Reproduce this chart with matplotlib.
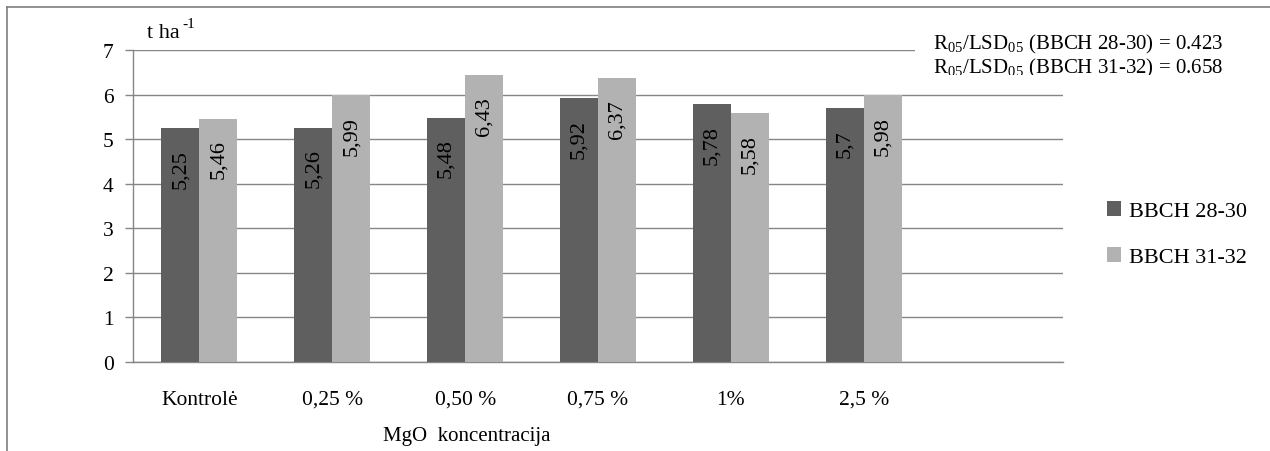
import matplotlib
matplotlib.use("Agg")
import matplotlib.pyplot as plt
import numpy as np
from matplotlib.transforms import Bbox

plt.rcParams['font.family'] = ['Liberation Serif', 'DejaVu Serif']

categories = ["Kontrolė", "0,25 %", "0,50 %", "0,75 %", "1%", "2,5 %"]
bbch_28_30 = [5.25, 5.26, 5.48, 5.92, 5.78, 5.70]
bbch_31_32 = [5.46, 5.99, 6.43, 6.37, 5.58, 5.98]
series_names = ["BBCH 28-30", "BBCH 31-32"]
y_ticks = [0, 1, 2, 3, 4, 5, 6, 7]

W, H = 1270, 452
fig = plt.figure(figsize=(W / 100, H / 100), dpi=100)
ax = fig.add_axes([133 / W, 1 - 363 / H, (1063 - 133) / W, (363 - 51) / H])

grid_c = "#868686"
dark_c = "#5f5f5f"
light_c = "#b2b2b2"
fs = 15.5

n_slots = len(categories) + 1  # one empty slot at the right end
x = np.arange(len(categories))
bw = 0.286
b1 = ax.bar(x - bw / 2, bbch_28_30, bw, color=dark_c, zorder=3, label=series_names[0])
b2 = ax.bar(x + bw / 2, bbch_31_32, bw, color=light_c, zorder=3, label=series_names[1])

def fmt(v):
    s = f"{v:.2f}".rstrip("0").rstrip(".")
    return s.replace(".", ",")

for bars, vals in ((b1, bbch_28_30), (b2, bbch_31_32)):
    for r, v in zip(bars, vals):
        ax.annotate(fmt(v), (r.get_x() + r.get_width() / 2, v),
                    xytext=(0, -15), textcoords="offset points",
                    rotation=90, ha="center", va="top", fontsize=16, zorder=4)

ax.set_xlim(-0.5, n_slots - 0.5)
ax.set_ylim(0, 7)
ax.set_yticks(y_ticks)
ax.set_yticklabels([str(t) for t in y_ticks], fontsize=fs)
ax.set_xticks(x)
ax.set_xticklabels(categories, fontsize=fs)
ax.tick_params(axis="x", length=0, pad=20)
ax.tick_params(axis="y", length=6, color=grid_c, width=1, pad=8)
ax.yaxis.grid(True, color=grid_c, linewidth=1, zorder=0)
for s in ("top", "right"):
    ax.spines[s].set_visible(False)
for s in ("left", "bottom"):
    ax.spines[s].set_color(grid_c)
    ax.spines[s].set_linewidth(1)

fig.text(467 / W, 1 - 437 / H, "MgO  koncentracija", ha="center", va="center", fontsize=15)
fig.text(147 / W, 1 - 33 / H, "t ha", ha="left", va="center", fontsize=16)
fig.text(182 / W, 1 - 25 / H, "-1", ha="left", va="center", fontsize=11)

# LSD annotation box (white background hides the gridline beneath)
fig.patches.append(plt.Rectangle((915 / W, 1 - 78 / H), (1268 - 915) / W, (78 - 30) / H,
                                 transform=fig.transFigure, facecolor="white",
                                 edgecolor="none", zorder=5))
t1 = fig.text(933 / W, 1 - 44 / H,
              "R$_{\\mathregular{05}}$/LSD$_{\\mathregular{05}}$ (BBCH 28-30) = 0.423",
              ha="left", va="center", fontsize=15, zorder=6)
t2 = fig.text(933 / W, 1 - 68 / H,
              "R$_{\\mathregular{05}}$/LSD$_{\\mathregular{05}}$ (BBCH 31-32) = 0.658",
              ha="left", va="center", fontsize=15, zorder=6)
t2.set_clip_box(Bbox.from_extents(0, H - 76, W, H))
t2.set_clip_on(True)

leg = fig.legend(handles=[b1, b2], labels=series_names, loc="center left",
                 bbox_to_anchor=(1087 / W, 1 - 235 / H), frameon=False, fontsize=16,
                 handlelength=0.65, handleheight=0.65, handletextpad=0.35, labelspacing=1.15)

# outer frame: top and left edges
fig.add_artist(plt.Line2D([7 / W, 1], [1 - 8 / H, 1 - 8 / H], transform=fig.transFigure,
                          color="#7f7f7f", linewidth=1.2))
fig.add_artist(plt.Line2D([7 / W, 7 / W], [0, 1 - 8 / H], transform=fig.transFigure,
                          color="#7f7f7f", linewidth=1.2))

fig.savefig("out.png", dpi=100)
